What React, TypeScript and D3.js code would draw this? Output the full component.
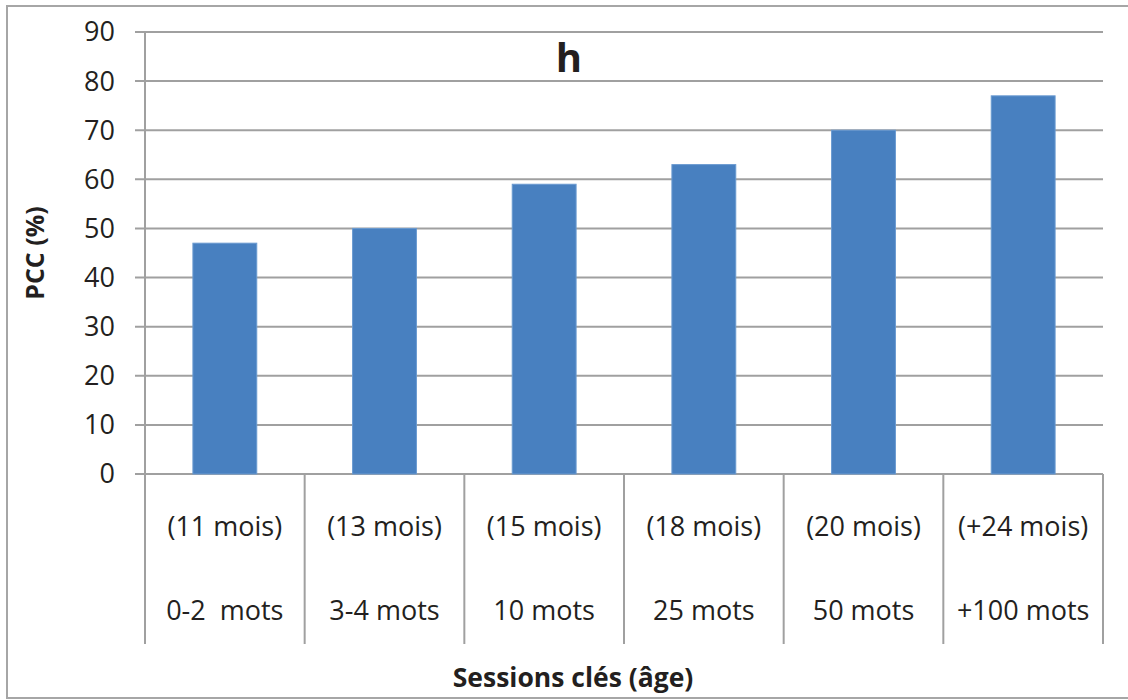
import React from "react";
import * as d3 from "d3";

const ageLabels = ["(11 mois)", "(13 mois)", "(15 mois)", "(18 mois)", "(20 mois)", "(+24 mois)"];
const wordLabels = ["0-2  mots", "3-4 mots", "10 mots", "25 mots", "50 mots", "+100 mots"];
const values = [47, 50, 59, 63, 70, 77];
const yTicks = [0, 10, 20, 30, 40, 50, 60, 70, 80, 90];

const W = 1128;
const H = 700;
const left = 145;
const right = 1103;
const top = 32;
const bottom = 474;
const FONT = "'Open Sans', sans-serif";
const TEXT = "#231f20";
const GRID = "#a0a0a0";

export default function App() {
  const idx = values.map((_, i) => String(i));
  const x = d3.scaleBand<string>().domain(idx).range([left, right]).paddingInner(0).paddingOuter(0);
  const y = d3.scaleLinear().domain([0, 90]).range([bottom, top]);
  const bw = x.bandwidth();
  const barW = bw * 0.4;

  return (
    <svg width={W} height={H} style={{ position: "absolute", left: 0, top: 0, background: "#fff" }}>
      <rect x={7} y={6} width={W + 10} height={692} fill="#fff" stroke="#a6a6a6" strokeWidth={2} />
      {yTicks.map((t) => (
        <g key={t}>
          <line x1={135} x2={right} y1={y(t)} y2={y(t)} stroke={GRID} strokeWidth={2} />
          <text x={115} y={y(t)} dy="0.35em" textAnchor="end" fontFamily={FONT} fontSize={27} fill={TEXT}>
            {t}
          </text>
        </g>
      ))}
      <line x1={left} x2={left} y1={top} y2={bottom} stroke={GRID} strokeWidth={2} />
      {values.map((v, i) => {
        const cx = (x(String(i)) as number) + bw / 2;
        return (
          <rect
            key={i}
            x={cx - barW / 2}
            y={y(v)}
            width={barW}
            height={y(0) - y(v)}
            fill="#4880c0"
            stroke="#6a9ad0"
            strokeWidth={1}
          />
        );
      })}
      {d3.range(values.length + 1).map((i) => {
        const xx = i < values.length ? (x(String(i)) as number) : right;
        return <line key={i} x1={xx} x2={xx} y1={bottom} y2={644} stroke={GRID} strokeWidth={2} />;
      })}
      {values.map((_, i) => {
        const cx = (x(String(i)) as number) + bw / 2;
        return (
          <g key={i}>
            <text x={cx} y={527} dy="0.35em" textAnchor="middle" fontFamily={FONT} fontSize={27} fill={TEXT}>
              {ageLabels[i]}
            </text>
            <text x={cx} y={611} dy="0.35em" textAnchor="middle" fontFamily={FONT} fontSize={27} fill={TEXT} style={{ whiteSpace: "pre" }}>
              {wordLabels[i]}
            </text>
          </g>
        );
      })}
      <text x={569} y={72} textAnchor="middle" fontFamily={FONT} fontWeight="bold" fontSize={40} fill={TEXT}>
        h
      </text>
      <text
        transform={`translate(44, ${(top + bottom) / 2}) rotate(-90)`}
        textAnchor="middle"
        fontFamily={FONT}
        fontWeight="bold"
        fontSize={25}
        fill={TEXT}
      >
        PCC (%)
      </text>
      <text x={573} y={687} textAnchor="middle" fontFamily={FONT} fontWeight="bold" fontSize={26.5} fill={TEXT}>
        Sessions clés (âge)
      </text>
    </svg>
  );
}
